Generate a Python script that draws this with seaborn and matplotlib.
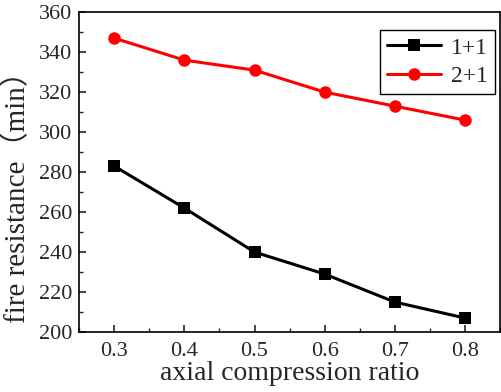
import matplotlib
matplotlib.use("Agg")
import matplotlib.pyplot as plt
import seaborn as sns
import pandas as pd
from matplotlib.ticker import MultipleLocator

# data
ratio = [0.3, 0.4, 0.5, 0.6, 0.7, 0.8]
fire_1p1 = [283, 262, 240, 229, 215, 207]
fire_2p1 = [347, 336, 331, 320, 313, 306]
series_names = ["1+1", "2+1"]

df = pd.DataFrame({
    "ratio": ratio * 2,
    "fire": fire_1p1 + fire_2p1,
    "case": [series_names[0]] * len(ratio) + [series_names[1]] * len(ratio),
})

sns.set_style("ticks")
plt.rcParams["font.family"] = ["Liberation Serif", "Noto Sans CJK SC"]
plt.rcParams["xtick.direction"] = "in"
plt.rcParams["ytick.direction"] = "in"

fig = plt.figure(figsize=(5.01, 3.92), dpi=100)
ax = fig.add_axes([0.158, 0.153, 0.840, 0.816])

sns.lineplot(data=df, x="ratio", y="fire", hue="case", style="case",
             palette={"1+1": "black", "2+1": "#ff0000"},
             markers={"1+1": "s", "2+1": "o"}, dashes=False,
             markersize=9, linewidth=2.2, markeredgewidth=0, ax=ax)

ax.set_xlim(0.25, 0.85)
ax.set_ylim(200, 360)
ax.xaxis.set_major_locator(MultipleLocator(0.1))
ax.xaxis.set_minor_locator(MultipleLocator(0.05))
ax.yaxis.set_major_locator(MultipleLocator(20))
ax.yaxis.set_minor_locator(MultipleLocator(10))
ax.tick_params(which="major", length=5, width=1.2, labelsize=16)
ax.tick_params(axis="x", which="major", pad=7)
ax.tick_params(axis="y", which="major", pad=5)
ax.tick_params(which="minor", length=3, width=1)
for s in ax.spines.values():
    s.set_linewidth(1.2)
    s.set_color("black")

ax.set_xlabel("axial compression ratio", fontsize=20, labelpad=0)
ax.set_ylabel("fire resistance（min）", fontsize=21)
ax.yaxis.set_label_coords(-0.114, 0.445)

leg = ax.legend(loc="upper right", fontsize=17, frameon=True, fancybox=False,
                edgecolor="black", framealpha=1, handlelength=2.3,
                borderpad=0.3, labelspacing=0.3, handletextpad=0.4,
                borderaxespad=0, bbox_to_anchor=(0.988, 0.944))
leg.get_frame().set_linewidth(1)

fig.savefig("out.png", dpi=100)
